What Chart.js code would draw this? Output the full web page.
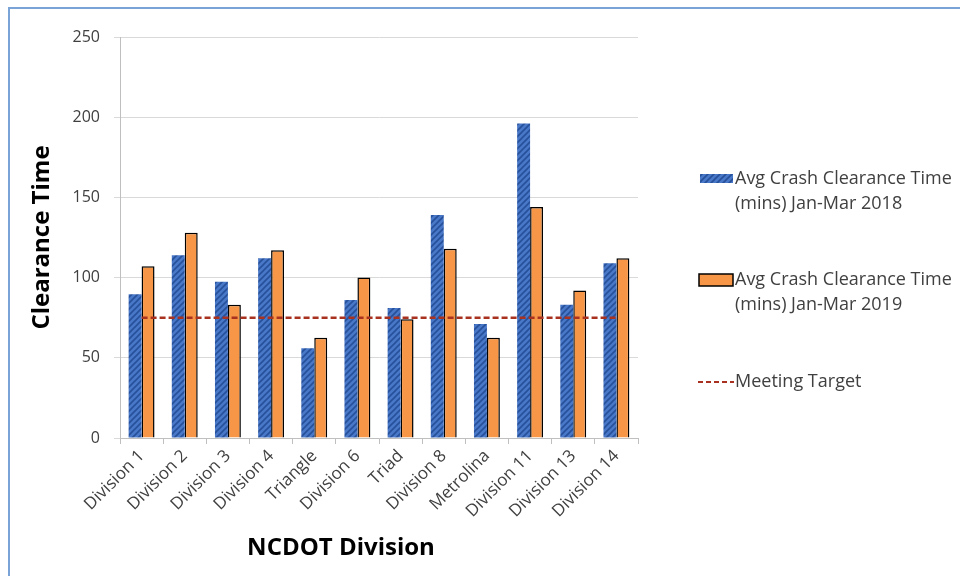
<!DOCTYPE html>
<html>
<head>
<meta charset="utf-8">
<script src="https://cdn.jsdelivr.net/npm/chart.js@4"></script>
<style>
  body { margin: 0; background: #fff; overflow: hidden; }
  #wrap { position: relative; width: 960px; height: 576px; }
  #frame {
    position: absolute; left: 8px; top: 7px; width: 1000px; height: 600px;
    border-left: 2px solid #7aa3d8; border-top: 2px solid #7aa3d8;
    pointer-events: none;
  }
</style>
</head>
<body>
<div id="wrap">
  <canvas id="Clearance-Chart"></canvas>
  <div id="frame"></div>
</div>
<script>
const divisions = [
  "Division 1",
  "Division 2",
  "Division 3",
  "Division 4",
  "Triangle",
  "Division 6",
  "Triad",
  "Division 8",
  "Metrolina",
  "Division 11",
  "Division 13",
  "Division 14",
];

const clearance2018 = [89.6, 114, 97.4, 112, 56, 86, 81, 139, 71, 196, 83, 109];
const clearance2019 = [107, 128, 83, 117, 62.5, 100, 74, 118, 62.5, 144, 92, 112];
const meetingTarget = [75, 75, 75, 75, 75, 75, 75, 75, 75, 75, 75, 75];

const legendLines = [
  ["Avg Crash Clearance Time", "(mins) Jan-Mar 2018"],
  ["Avg Crash Clearance Time", "(mins) Jan-Mar 2019"],
  ["Meeting Target"],
];

// diagonal hatch for the 2018 bars
function hatch() {
  const c = document.createElement("canvas");
  c.width = 6;
  c.height = 6;
  const g = c.getContext("2d");
  g.fillStyle = "#4a78c8";
  g.fillRect(0, 0, 6, 6);
  g.strokeStyle = "#27509a";
  g.lineWidth = 1.6;
  g.beginPath();
  g.moveTo(-1, 7); g.lineTo(7, -1);
  g.moveTo(-4, 4); g.lineTo(4, -4);
  g.moveTo(2, 10); g.lineTo(10, 2);
  g.stroke();
  return g.createPattern(c, "repeat");
}
const blueHatch = hatch();

const font = "'Open Sans', sans-serif";

// legend on the right + x axis title (sits left of centre in the original)
const sideLegend = {
  id: "sideLegend",
  afterDraw(chart) {
    const ctx = chart.ctx;
    ctx.save();
    ctx.textBaseline = "middle";
    const x = 735;
    const rows = [179, 280, 382];

    ctx.fillStyle = blueHatch;
    ctx.fillRect(700, rows[0] - 5, 33, 9);

    ctx.fillStyle = "#f79646";
    ctx.fillRect(699, rows[1] - 6, 34, 12);
    ctx.strokeStyle = "#000";
    ctx.lineWidth = 1.5;
    ctx.strokeRect(699, rows[1] - 6, 34, 12);

    ctx.strokeStyle = "#a8321f";
    ctx.lineWidth = 2;
    ctx.setLineDash([5, 3]);
    ctx.beginPath();
    ctx.moveTo(698, rows[2]);
    ctx.lineTo(734, rows[2]);
    ctx.stroke();
    ctx.setLineDash([]);

    ctx.font = "18px " + font;
    ctx.fillStyle = "#404040";
    legendLines.forEach((lines, i) => {
      lines.forEach((t, j) => ctx.fillText(t, x, rows[i] + j * 25));
    });

    ctx.font = "bold 24px " + font;
    ctx.fillStyle = "#000";
    ctx.textAlign = "center";
    ctx.fillText("NCDOT Division", 341, 548);
    ctx.restore();
  },
};

const data = {
  labels: divisions,
  datasets: [
    {
      type: "line",
      label: "Meeting Target",
      data: meetingTarget,
      borderColor: "#a8321f",
      borderWidth: 2.5,
      borderDash: [6, 3],
      pointRadius: 0,
      order: 0,
    },
    {
      label: "Avg Crash Clearance Time (mins) Jan-Mar 2018",
      data: clearance2018,
      backgroundColor: blueHatch,
      borderWidth: 0,
      order: 1,
    },
    {
      label: "Avg Crash Clearance Time (mins) Jan-Mar 2019",
      data: clearance2019,
      backgroundColor: "#f79646",
      borderColor: "#000",
      borderWidth: 1.5,
      order: 1,
    },
  ],
};

const config = {
  type: "bar",
  data: data,
  plugins: [sideLegend],
  options: {
    responsive: true,
    maintainAspectRatio: false,
    animation: false,
    layout: { padding: { left: 0, top: 37, right: 322, bottom: 0 } },
    datasets: { bar: { categoryPercentage: 0.6, barPercentage: 1 } },
    plugins: {
      legend: { display: false },
      tooltip: { enabled: false },
    },
    scales: {
      x: {
        afterFit: (s) => { s.height = 138; },
        grid: { drawOnChartArea: false, color: "#bfbfbf", tickLength: 6, offset: true },
        border: { color: "#bfbfbf" },
        ticks: {
          minRotation: 45,
          maxRotation: 45,
          color: "#404040",
          font: { family: font, size: 17 },
          padding: 2,
        },
      },
      y: {
        min: 0,
        max: 250,
        afterFit: (s) => { s.width = 120; },
        grid: { color: "#d9d9d9", tickLength: 6 },
        border: { color: "#bfbfbf" },
        ticks: {
          stepSize: 50,
          color: "#404040",
          font: { family: font, size: 16 },
          padding: 14,
        },
        title: {
          display: true,
          text: "Clearance Time",
          color: "#000",
          font: { family: font, size: 24, weight: "bold" },
          padding: { top: 28 },
        },
      },
    },
  },
};

let myChart = new Chart(document.getElementById("Clearance-Chart"), config);
</script>
</body>
</html>
